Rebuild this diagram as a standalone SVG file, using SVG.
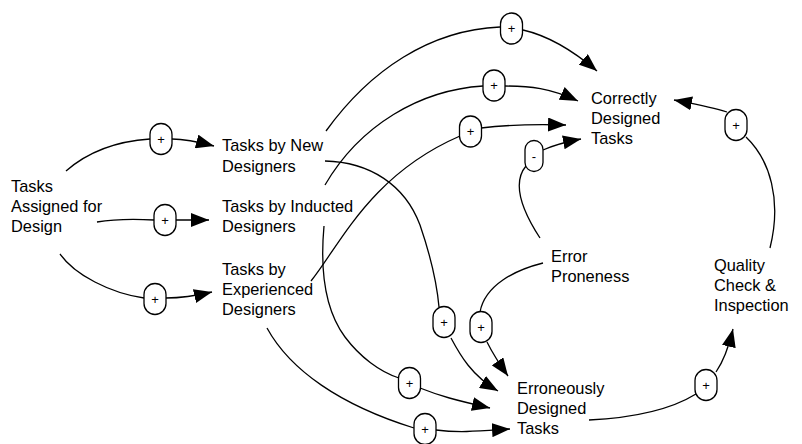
<svg xmlns="http://www.w3.org/2000/svg" width="802" height="444" viewBox="0 0 802 444">
  <style>
    .lbl { font-family: "Liberation Sans", Arial, sans-serif; font-size: 16.4px; fill: #000; }
    .sign { font-family: "Liberation Sans", Arial, sans-serif; font-size: 13px; fill: #000; text-anchor: middle; }
    .link { fill: none; stroke: #000; stroke-width: 1.3; }
    .arrow { fill: none; stroke: #000; stroke-width: 1.3; marker-end: url(#head); }
    .pill { fill: #fff; stroke: #000; stroke-width: 1.3; }
  </style>
  <defs>
    <marker id="head" viewBox="0 0 18 14" refX="18" refY="7" markerWidth="18" markerHeight="14" markerUnits="userSpaceOnUse" orient="auto">
      <path d="M0,0 L18,7 L0,14 z" fill="#000"/>
    </marker>
  </defs>
  <rect width="802" height="444" fill="#fff"/>

  <!-- causal links: source → polarity pill → target -->
  <g id="connectors">
    <!-- Assigned → New -->
    <path class="link" d="M66,171 C90,150 120,141 150,139"/>
    <path class="arrow" d="M172,139 C185,139 195,141 214,146"/>
    <!-- Assigned → Inducted -->
    <path class="link" d="M97,222 C115,219 135,219 154,220"/>
    <path class="arrow" d="M176,220 L209,220"/>
    <!-- Assigned → Experienced -->
    <path class="link" d="M60,254 C75,275 110,293 144,298"/>
    <path class="arrow" d="M166,298 C180,298 195,296 212,292"/>
    <!-- New → Correctly -->
    <path class="link" d="M326,131 C370,70 430,30 500,27"/>
    <path class="arrow" d="M523,30 C545,35 570,48 597,71"/>
    <!-- Inducted → Correctly -->
    <path class="link" d="M325,185 C360,125 420,90 483,86"/>
    <path class="arrow" d="M505,86 C530,86 550,88 578,101"/>
    <!-- Experienced → Correctly -->
    <path class="link" d="M311,281 C340,245 370,175 460,136"/>
    <path class="arrow" d="M481,128 C505,125 530,124 566,125"/>
    <!-- New → Erroneously -->
    <path class="link" d="M325,161 C370,162 405,185 420,225 C432,260 437,285 439,307"/>
    <path class="arrow" d="M451,338 C460,355 472,376 498,391"/>
    <!-- Inducted → Erroneously -->
    <path class="link" d="M324,226 C320,270 325,310 345,337 C360,357 380,372 399,378"/>
    <path class="arrow" d="M420,388 C440,396 455,400 490,408"/>
    <!-- Experienced → Erroneously -->
    <path class="link" d="M267,328 C290,370 340,405 414,428"/>
    <path class="arrow" d="M436,430 C460,433 480,431 510,429"/>
    <!-- Error Proneness → Erroneously -->
    <path class="link" d="M543,263 C515,270 485,285 480,312"/>
    <path class="arrow" d="M487,342 C492,352 498,362 508,376"/>
    <!-- Error Proneness → Correctly (negative) -->
    <path class="link" d="M540,238 C525,215 510,185 526,166"/>
    <path class="arrow" d="M543,150 C552,146 560,143 581,139"/>
    <!-- Erroneously → Quality -->
    <path class="link" d="M589,420 C630,418 670,410 696,394"/>
    <path class="arrow" d="M716,372 C723,362 728,350 733,329"/>
    <!-- Quality → Correctly -->
    <path class="link" d="M770,248 C782,200 770,160 746,137"/>
    <path class="arrow" d="M727,112 C712,107 695,104 674,100"/>
  </g>

  <!-- polarity pills -->
  <g id="pills">
    <rect class="pill" x="150" y="123.5" width="22" height="31" rx="11"/><text class="sign" x="161" y="143.5">+</text>
    <rect class="pill" x="154" y="204.5" width="22" height="31" rx="11"/><text class="sign" x="165" y="224.5">+</text>
    <rect class="pill" x="144" y="283.5" width="22" height="31" rx="11"/><text class="sign" x="155" y="303.5">+</text>
    <rect class="pill" x="500.5" y="13" width="22" height="31" rx="11"/><text class="sign" x="511.5" y="33">+</text>
    <rect class="pill" x="483" y="70" width="22" height="31" rx="11"/><text class="sign" x="494" y="90">+</text>
    <rect class="pill" x="459.5" y="116" width="22" height="31" rx="11"/><text class="sign" x="470.5" y="136">+</text>
    <rect class="pill" x="525" y="140.5" width="18" height="31" rx="9"/><text class="sign" x="534" y="160.5">-</text>
    <rect class="pill" x="433" y="306.5" width="22" height="31" rx="11"/><text class="sign" x="444" y="326.5">+</text>
    <rect class="pill" x="470" y="311.5" width="22" height="31" rx="11"/><text class="sign" x="481" y="331.5">+</text>
    <rect class="pill" x="398.5" y="367.5" width="22" height="31" rx="11"/><text class="sign" x="409.5" y="387.5">+</text>
    <rect class="pill" x="414" y="413.5" width="22" height="31" rx="11"/><text class="sign" x="425" y="433.5">+</text>
    <rect class="pill" x="695" y="369.5" width="22" height="31" rx="11"/><text class="sign" x="706" y="389.5">+</text>
    <rect class="pill" x="725" y="109.5" width="22" height="31" rx="11"/><text class="sign" x="736" y="129.5">+</text>
  </g>

  <g id="tasks-assigned">
    <text class="lbl" x="11" y="192">Tasks</text>
    <text class="lbl" x="11" y="212">Assigned for</text>
    <text class="lbl" x="11" y="232">Design</text>
  </g>
  <g id="tasks-new">
    <text class="lbl" x="222" y="151">Tasks by New</text>
    <text class="lbl" x="222" y="171.5">Designers</text>
  </g>
  <g id="tasks-inducted">
    <text class="lbl" x="222" y="212">Tasks by Inducted</text>
    <text class="lbl" x="222" y="232">Designers</text>
  </g>
  <g id="tasks-experienced">
    <text class="lbl" x="222" y="275">Tasks by</text>
    <text class="lbl" x="222" y="295">Experienced</text>
    <text class="lbl" x="222" y="315">Designers</text>
  </g>
  <g id="correct-tasks">
    <text class="lbl" x="591" y="104">Correctly</text>
    <text class="lbl" x="591" y="124">Designed</text>
    <text class="lbl" x="591" y="144">Tasks</text>
  </g>
  <g id="error-proneness">
    <text class="lbl" x="551" y="262">Error</text>
    <text class="lbl" x="551" y="282">Proneness</text>
  </g>
  <g id="quality-check">
    <text class="lbl" x="714" y="271">Quality</text>
    <text class="lbl" x="714" y="291">Check &amp;</text>
    <text class="lbl" x="714" y="311">Inspection</text>
  </g>
  <g id="erroneous-tasks">
    <text class="lbl" x="517" y="394">Erroneously</text>
    <text class="lbl" x="517" y="414">Designed</text>
    <text class="lbl" x="517" y="434">Tasks</text>
  </g>
</svg>
